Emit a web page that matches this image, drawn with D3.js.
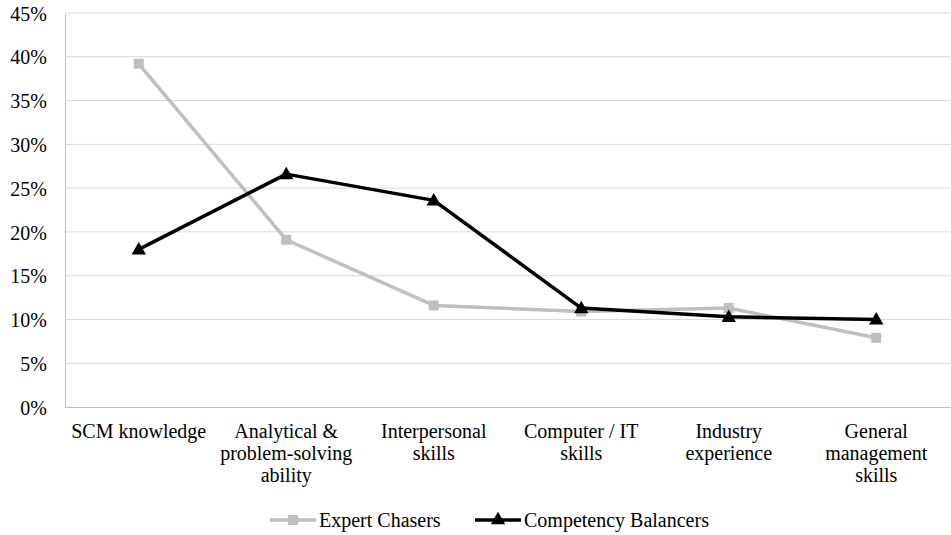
<!DOCTYPE html>
<html>
<head>
<meta charset="utf-8">
<script src="https://cdn.jsdelivr.net/npm/d3@7"></script>
</head>
<body style="margin:0">
<svg id="chart" width="951" height="535" font-family="Liberation Serif" style="display:block"></svg>
<script>
// Skill categories (multi-line labels)
const categories = [
  ["SCM knowledge"],
  ["Analytical &", "problem-solving", "ability"],
  ["Interpersonal", "skills"],
  ["Computer / IT", "skills"],
  ["Industry", "experience"],
  ["General", "management", "skills"]
];
const expertChasers = [0.392, 0.191, 0.116, 0.109, 0.113, 0.079];
const competencyBalancers = [0.180, 0.266, 0.236, 0.113, 0.103, 0.100];
const yTicks = [0, 0.05, 0.10, 0.15, 0.20, 0.25, 0.30, 0.35, 0.40, 0.45];
const seriesNames = ["Expert Chasers", "Competency Balancers"];

const FS = 20;
const serif = sel => sel.style("font-family", '"Liberation Serif"').attr("font-size", FS);

const svg = d3.select("#chart");
const margin = { left: 65, right: 1, top: 13, bottom: 128 };
const W = 951, H = 535;
const x = d3.scaleBand().domain(d3.range(categories.length)).range([margin.left, W - margin.right]);
const y = d3.scaleLinear().domain([0, 0.45]).range([H - margin.bottom, margin.top]);

// Gridlines
svg.append("g").selectAll("line").data(yTicks.slice(1)).join("line")
  .attr("x1", margin.left).attr("x2", W - margin.right)
  .attr("y1", d => y(d)).attr("y2", d => y(d))
  .attr("stroke", "#d9d9d9").attr("stroke-width", 1);

// Y axis
const yAxis = svg.append("g").attr("transform", `translate(${margin.left},0)`)
  .call(d3.axisLeft(y).tickValues(yTicks).tickFormat(d3.format(".0%")).tickSize(0).tickPadding(18));
yAxis.attr("font-family", "Liberation Serif").attr("font-size", FS);
yAxis.select(".domain").attr("stroke", "#bfbfbf");
yAxis.selectAll("text").call(serif).attr("fill", "#000").attr("dy", "0.36em");

// X axis
const xAxis = svg.append("g").attr("transform", `translate(0,${y(0)})`)
  .call(d3.axisBottom(x).tickSize(0).tickFormat(""));
xAxis.select(".domain").attr("stroke", "#bfbfbf");

const cx = i => x(i) + x.bandwidth() / 2;

// Category labels
const lab = svg.append("g").selectAll("text").data(categories).join("text")
  .attr("x", (d, i) => cx(i)).attr("y", y(0) + 31)
  .attr("text-anchor", "middle")
  .call(serif)
  .attr("fill", "#000");
lab.selectAll("tspan").data(d => d).join("tspan")
  .attr("x", function() { return d3.select(this.parentNode).attr("x"); })
  .attr("dy", (d, j) => j === 0 ? 0 : 22)
  .text(d => d);

const line = d3.line().x((d, i) => cx(i)).y(d => y(d));
const tri = d3.symbol().type(d3.symbolTriangle).size(90);

// Expert Chasers
svg.append("path").datum(expertChasers).attr("d", line)
  .attr("fill", "none").attr("stroke", "#bfbfbf").attr("stroke-width", 3.5).attr("stroke-linejoin", "round");
svg.append("g").selectAll("rect").data(expertChasers).join("rect")
  .attr("x", (d, i) => cx(i) - 5).attr("y", d => y(d) - 5)
  .attr("width", 10).attr("height", 10).attr("fill", "#bfbfbf");

// Competency Balancers
svg.append("path").datum(competencyBalancers).attr("d", line)
  .attr("fill", "none").attr("stroke", "#000").attr("stroke-width", 3.5).attr("stroke-linejoin", "round");
svg.append("g").selectAll("path").data(competencyBalancers).join("path")
  .attr("d", tri).attr("transform", (d, i) => `translate(${cx(i)},${y(d) + 1})`).attr("fill", "#000");

// Legend
const legY = 520;
const leg = svg.append("g");
const items = [
  { name: seriesNames[0], color: "#bfbfbf", x0: 270, marker: "square" },
  { name: seriesNames[1], color: "#000", x0: 475, marker: "triangle" }
];
items.forEach(it => {
  leg.append("line").attr("x1", it.x0).attr("x2", it.x0 + 46)
    .attr("y1", legY).attr("y2", legY).attr("stroke", it.color).attr("stroke-width", 3.5);
  if (it.marker === "square") {
    leg.append("rect").attr("x", it.x0 + 23 - 5).attr("y", legY - 5).attr("width", 10).attr("height", 10).attr("fill", it.color);
  } else {
    leg.append("path").attr("d", tri).attr("transform", `translate(${it.x0 + 23},${legY})`).attr("fill", it.color);
  }
  leg.append("text").attr("x", it.x0 + 49).attr("y", legY + 7)
    .call(serif).attr("fill", "#000").text(it.name);
});
</script>
</body>
</html>
